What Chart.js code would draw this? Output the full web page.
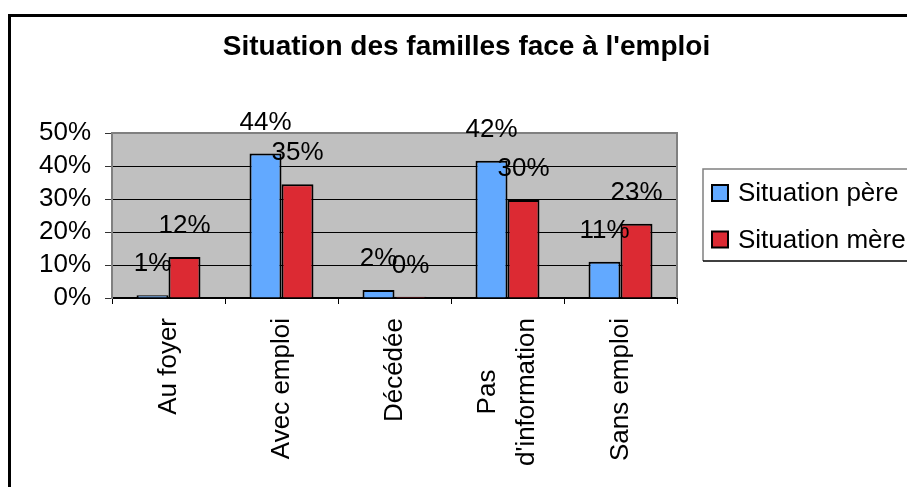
<!DOCTYPE html>
<html>
<head>
<meta charset="utf-8">
<script src="https://cdn.jsdelivr.net/npm/chart.js@4.4.1/dist/chart.umd.min.js"></script>
<style>
html, body { margin: 0; padding: 0; background: #fff; overflow: hidden; width: 907px; height: 487px; }
#frame { position: absolute; left: 8px; top: 14px; width: 950px; height: 520px; border: 3px solid #000; }
#wrap { position: absolute; left: 0; top: 0; width: 911px; height: 476px; }
</style>
</head>
<body>
<div id="frame"><div id="wrap"><canvas id="chart"></canvas></div></div>
<script>
const titre = "Situation des familles face à l'emploi";
const categories = ['Au foyer', 'Avec emploi', 'Décédée', ['Pas', "d'information"], 'Sans emploi'];
const seriesNames = ['Situation père', 'Situation mère'];
const pere = [0.8, 43.8, 2.4, 41.6, 11.0];
const mere = [12.4, 34.5, 0.4, 29.7, 22.5];
const yTicks = [0, 10, 20, 30, 40, 50];

const FONT = "'Liberation Sans', Arial, sans-serif";
const colors = ['#62a9ff', '#dc2a33'];

// gray plot background + frame
const plotArea = {
    id: 'plotArea',
    beforeDraw(chart) {
        const a = chart.chartArea, ctx = chart.ctx;
        ctx.save();
        ctx.fillStyle = '#c0c0c0';
        ctx.fillRect(a.left, a.top, a.right - a.left, a.bottom - a.top);
        ctx.restore();
    },
    beforeDatasetsDraw(chart) {
        const a = chart.chartArea, ctx = chart.ctx;
        ctx.save();
        ctx.strokeStyle = '#808080';
        ctx.lineWidth = 2;
        ctx.beginPath();
        ctx.moveTo(a.left, a.top);
        ctx.lineTo(a.right, a.top);
        ctx.lineTo(a.right, a.bottom);
        ctx.stroke();
        ctx.restore();
    }
};

// vertical category labels, multi-line ones centred like Excel does
const catLabels = {
    id: 'catLabels',
    afterDraw(chart) {
        const sx = chart.scales.x, ctx = chart.ctx;
        const lh = 39, top = sx.top + 20;
        ctx.save();
        ctx.font = '26px ' + FONT;
        ctx.fillStyle = '#000';
        ctx.textAlign = 'right';
        ctx.textBaseline = 'middle';
        chart.data.labels.forEach((lbl, i) => {
            const lines = Array.isArray(lbl) ? lbl : [lbl];
            const widths = lines.map(t => ctx.measureText(t).width);
            const W = Math.max(...widths);
            const x = sx.getPixelForTick(i);
            ctx.save();
            ctx.translate(x, top);
            ctx.rotate(-Math.PI / 2);
            lines.forEach((t, k) => {
                const off = (k - (lines.length - 1) / 2) * lh;
                ctx.fillText(t, -(W - widths[k]) / 2, off);
            });
            ctx.restore();
        });
        ctx.restore();
    }
};

// percentage labels above every bar
const barLabels = {
    id: 'barLabels',
    afterDatasetsDraw(chart) {
        const ctx = chart.ctx;
        ctx.save();
        ctx.font = '26px ' + FONT;
        ctx.fillStyle = '#000';
        ctx.textAlign = 'center';
        ctx.textBaseline = 'alphabetic';
        chart.data.datasets.forEach((ds, i) => {
            chart.getDatasetMeta(i).data.forEach((bar, j) => {
                ctx.fillText(Math.round(ds.data[j]) + '%', bar.x, bar.y - 24);
            });
        });
        ctx.restore();
    }
};

// boxed legend on the right, like the Excel one
const boxLegend = {
    id: 'boxLegend',
    afterDraw(chart) {
        const ctx = chart.ctx;
        const left = 692, top = 152, bottom = 244, right = 940;
        ctx.save();
        ctx.lineWidth = 1.5;
        ctx.strokeStyle = '#808080';
        ctx.beginPath();
        ctx.moveTo(left, bottom);
        ctx.lineTo(left, top);
        ctx.lineTo(right, top);
        ctx.stroke();
        ctx.strokeStyle = '#000';
        ctx.beginPath();
        ctx.moveTo(left, bottom);
        ctx.lineTo(right, bottom);
        ctx.stroke();
        ctx.font = '26px ' + FONT;
        ctx.textBaseline = 'middle';
        ctx.textAlign = 'left';
        chart.data.datasets.forEach((ds, i) => {
            const cy = 176 + i * 46.5;
            ctx.fillStyle = ds.backgroundColor;
            ctx.fillRect(701, cy - 8, 16, 16);
            ctx.lineWidth = 2;
            ctx.strokeStyle = '#000';
            ctx.strokeRect(701, cy - 8, 16, 16);
            ctx.fillStyle = '#000';
            ctx.fillText(ds.label, 727, cy + 1);
        });
        ctx.restore();
    }
};

new Chart(document.getElementById('chart'), {
    type: 'bar',
    data: {
        labels: categories,
        datasets: [
            { label: seriesNames[0], data: pere, backgroundColor: colors[0], borderColor: '#000', borderWidth: 2 },
            { label: seriesNames[1], data: mere, backgroundColor: colors[1], borderColor: '#000', borderWidth: 2 }
        ]
    },
    options: {
        responsive: true,
        maintainAspectRatio: false,
        animation: false,
        categoryPercentage: 0.566,
        barPercentage: 1.0,
        layout: { padding: 0 },
        plugins: {
            legend: { display: false },
            tooltip: { enabled: false },
            title: {
                display: true,
                text: titre,
                color: '#000',
                font: { family: FONT, size: 28, weight: 'bold', lineHeight: 1.2 },
                padding: { top: 13.5, bottom: 69 }
            }
        },
        scales: {
            x: {
                afterFit(s) { s.height = 195; },
                grid: {
                    drawOnChartArea: false,
                    drawTicks: true,
                    tickLength: 6,
                    color: '#000',
                    offset: true
                },
                border: { color: '#000', width: 2 },
                ticks: { display: false, autoSkip: false }
            },
            y: {
                min: 0,
                max: 50,
                afterFit(s) { s.width = 101; },
                afterBuildTicks(s) { s.ticks = yTicks.map(v => ({ value: v })); },
                grid: {
                    color: c => (c.tick && c.tick.value === 50) ? '#808080' : '#000',
                    lineWidth: 1,
                    drawTicks: true,
                    tickLength: 7,
                    tickColor: '#333'
                },
                border: { color: '#808080', width: 2 },
                ticks: {
                    autoSkip: false,
                    padding: 14,
                    color: '#000',
                    font: { family: FONT, size: 26 },
                    callback: v => v + '%'
                }
            },
            // empty right-hand column that leaves room for the legend
            legendSpace: {
                type: 'linear',
                position: 'right',
                afterFit(s) { s.width = 245; },
                grid: { display: false },
                border: { display: false },
                ticks: { display: false }
            }
        }
    },
    plugins: [plotArea, catLabels, barLabels, boxLegend]
});
</script>
</body>
</html>
